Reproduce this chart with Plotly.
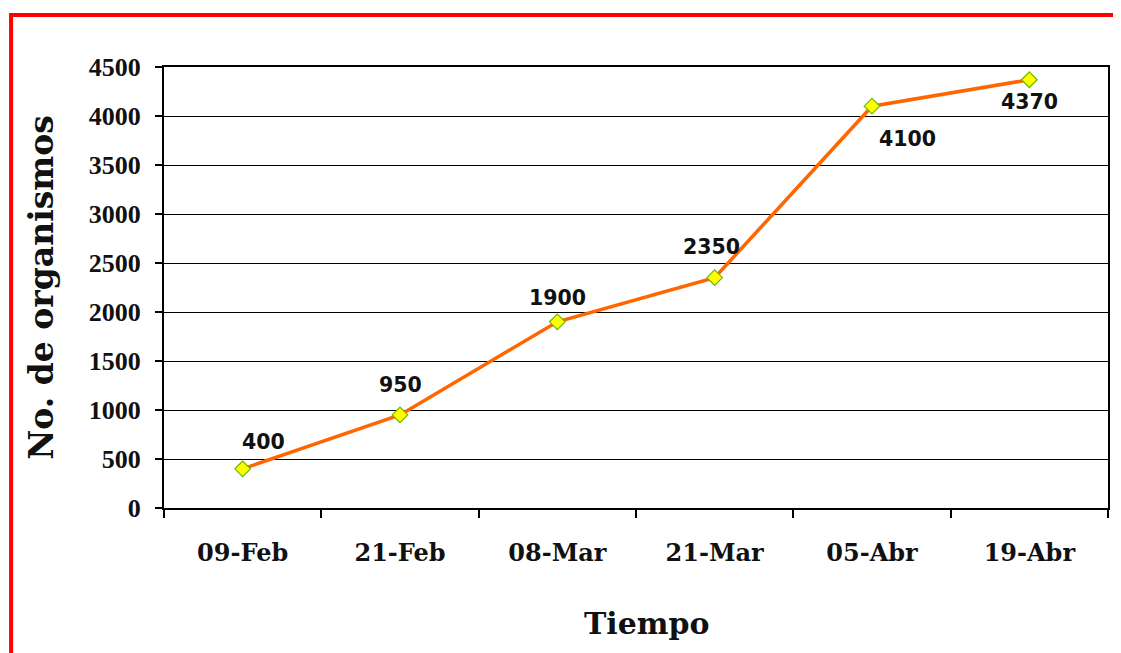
import plotly.graph_objects as go

fechas = ["09-Feb", "21-Feb", "08-Mar", "21-Mar", "05-Abr", "19-Abr"]
organismos = [400, 950, 1900, 2350, 4100, 4370]
y_ticks = [0, 500, 1000, 1500, 2000, 2500, 3000, 3500, 4000, 4500]
# label offsets (pixels) relative to each point
label_dx = [21, 0, 0, -3, 35, 0]
label_dy = [27, 30, 24, 31, -33, -22]

fig = go.Figure()
fig.add_trace(go.Scatter(
    x=fechas, y=organismos, mode="lines+markers",
    line=dict(color="#FF6600", width=3.5),
    marker=dict(symbol="diamond", size=12, color="#FFFF00",
                line=dict(color="#66BB00", width=1.2)),
    showlegend=False, hoverinfo="x+y"))

for f, v, dx, dy in zip(fechas, organismos, label_dx, label_dy):
    fig.add_annotation(x=f, y=v, text=str(v), showarrow=False,
                       xshift=dx, yshift=dy,
                       font=dict(family="DejaVu Sans", size=20.5, color="#111111", weight="bold"))

# x-axis title (placed slightly right of centre, as in the original)
fig.add_annotation(text="Tiempo", xref="paper", yref="paper", x=0.5117, y=-0.2608,
                   xanchor="center", yanchor="middle", showarrow=False,
                   font=dict(family="DejaVu Serif", size=30, weight="bold", color="#111111"))

fig.add_shape(type="rect", xref="paper", yref="paper",
              x0=-0.162, y0=-0.6, x1=1.2, y1=1.118,
              line=dict(color="#FF0000", width=4), layer="below")

fig.update_layout(
    width=1113, height=645,
    margin=dict(l=156, r=13, t=59, b=145),
    paper_bgcolor="white", plot_bgcolor="white",
    font=dict(family="DejaVu Serif", color="#111111"),
    xaxis=dict(
        type="category", range=[-0.5, 5.5],
        showline=True, linecolor="black", linewidth=2, mirror=True,
        ticks="outside", tickson="boundaries", ticklen=8, tickwidth=1.5, tickcolor="black",
        ticklabelstandoff=22,
        tickfont=dict(family="DejaVu Serif", size=24, weight="bold", color="#111111"),
        showgrid=False,
    ),
    yaxis=dict(
        range=[0, 4500], tickvals=y_ticks,
        showline=True, linecolor="black", linewidth=2, mirror=True,
        ticks="outside", ticklen=7, tickwidth=1.5, tickcolor="black",
        ticklabelstandoff=9,
        tickfont=dict(family="Liberation Serif", size=26, weight="bold", color="#111111"),
        showgrid=True, gridcolor="black", gridwidth=1,
        zeroline=False,
        title=dict(text="No. de organismos", standoff=25,
                   font=dict(family="DejaVu Serif", size=33, weight="bold", color="#111111")),
    ),
)

fig.write_html("out.html")
